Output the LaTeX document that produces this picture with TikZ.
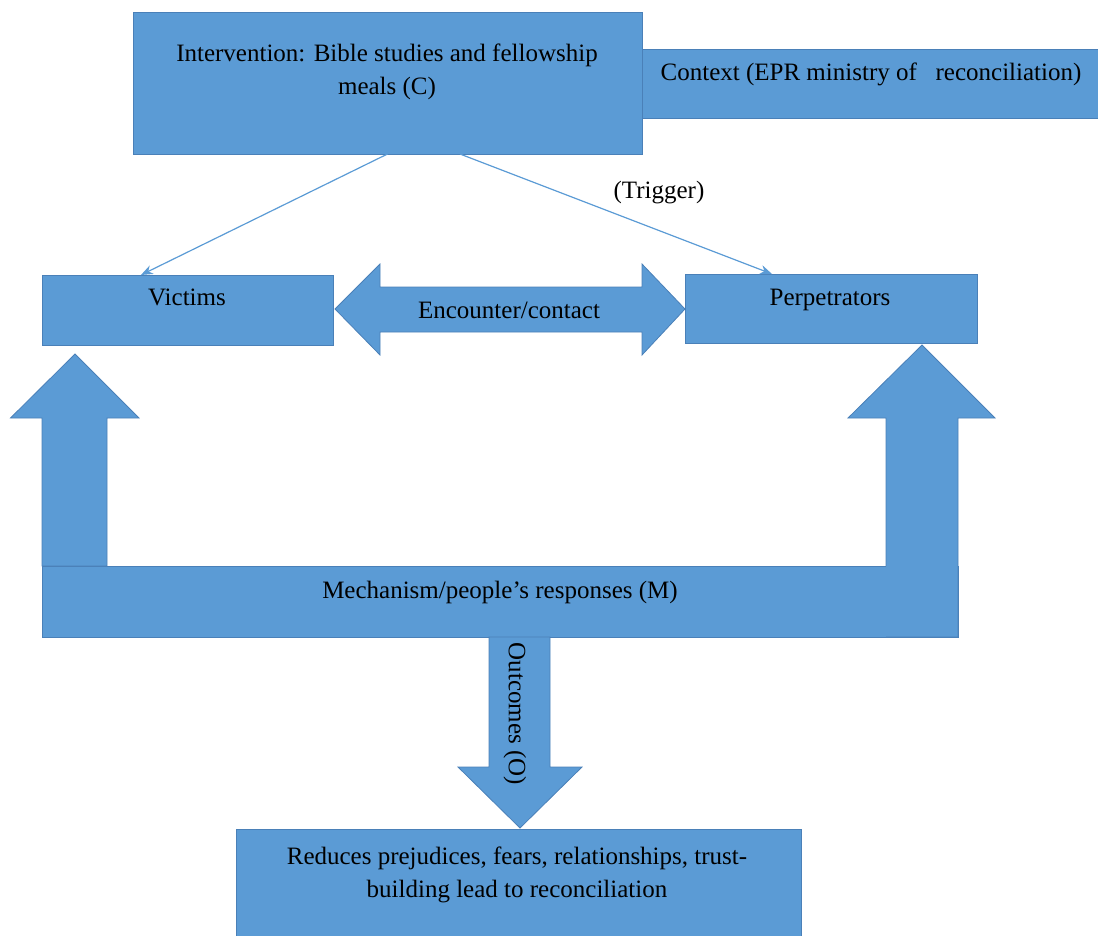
\documentclass[tikz,border=0pt]{standalone}
\usepackage{fontspec}
\setmainfont{Liberation Serif}
\usetikzlibrary{calc,arrows.meta}
\definecolor{fillblue}{HTML}{5B9BD5}
\definecolor{edgeblue}{HTML}{4A80B8}
\begin{document}
\begin{tikzpicture}[x=0.75pt,y=-0.75pt,
  box/.style={draw=edgeblue, line width=0.6pt, fill=fillblue, inner sep=0pt, outer sep=0pt},
  blockarrow/.style={draw=edgeblue, line width=0.6pt, fill=fillblue, line join=miter},
  arrowfill/.style={fill=fillblue},
  arrowedge/.style={draw=edgeblue, line width=0.6pt, line join=miter},
  lbl/.style={font=\fontsize{18.75}{24.75}\selectfont, text=black, inner sep=0pt, align=center},
  link/.style={draw=fillblue, line width=0.9pt, -{Stealth[length=9pt,width=7pt]}}]
\useasboundingbox (0,0) rectangle (1098,935);
% boxes
\node[box, minimum width=351pt, minimum height=51.75pt] (ctx) at (876,83.5) {};
\node[box, minimum width=381.75pt, minimum height=106.5pt] (int) at (387.5,83) {};
\node[box, minimum width=218.25pt, minimum height=52.5pt] (vic) at (187.5,310) {};
\node[box, minimum width=219pt, minimum height=51.75pt] (perp) at (831,308.5) {};
\node[box, minimum width=687pt, minimum height=53.25pt] (mech) at (500,601.5) {};
\node[box, minimum width=423.75pt, minimum height=90.75pt] (res) at (518.5,889.5) {};
% block arrows
\path[blockarrow] (42,566) -- (42,418) -- (10.5,418) -- (75,354) -- (139,418) -- (107,418) -- (107,566) -- cycle;
\fill[arrowfill] (886,637) -- (886,418) -- (848,418) -- (922,345) -- (995,418) -- (958,418) -- (958,637) -- cycle;
\draw[arrowedge] (886,566) -- (886,418) -- (848,418) -- (922,345) -- (995,418) -- (958,418) -- (958,637) -- (886,637);
\path[blockarrow] (489,637) -- (489,767) -- (458,767) -- (520,828) -- (582,767) -- (550,767) -- (550,637) -- cycle;
\path[blockarrow] (335,309) -- (380,264) -- (380,287) -- (642,287) -- (642,264) -- (685,309) -- (642,355) -- (642,332) -- (380,332) -- (380,355) -- cycle;
% links
\draw[link] (int.south) -- ($(vic.north west)!0.34!(vic.north east)$);
\draw[link] ($(int.south)+(72.5,0)$) -- ($(perp.north west)+(87,0)$);
% texts
\node[lbl] (intT) at (387,72) {Intervention: Bible studies and fellowship\\meals (C)};
\node[lbl, anchor=base] (ctxT) at (871,80) {Context (EPR ministry of\ \ \ reconciliation)};
\node[lbl, anchor=base] (trig) at (659,198) {(Trigger)};
\node[lbl, anchor=base] (vicT) at (187,305) {Victims};
\node[lbl, anchor=base] (enc) at (509,318) {Encounter/contact};
\node[lbl, anchor=base] (perpT) at (830,305) {Perpetrators};
\node[lbl, anchor=base] (mechT) at (500,598) {Mechanism/people’s responses (M)};
\node[lbl, rotate=-90] (outc) at (515,714) {Outcomes (O)};
\node[lbl] (resT) at (517,875) {Reduces prejudices, fears, relationships, trust-\\building lead to reconciliation};
\end{tikzpicture}
\end{document}
